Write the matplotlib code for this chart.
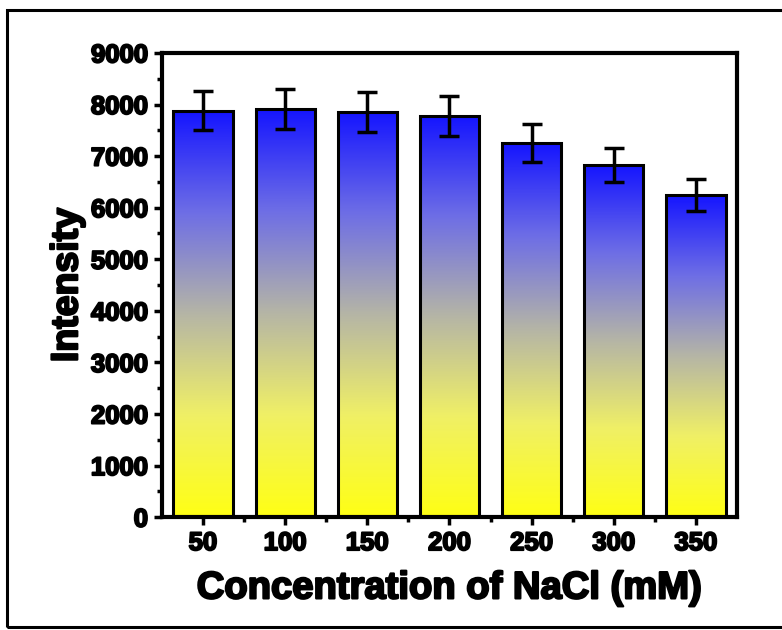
import numpy as np
import matplotlib
matplotlib.use("Agg")
import matplotlib.pyplot as plt
from matplotlib.colors import LinearSegmentedColormap
from matplotlib.ticker import MultipleLocator
from matplotlib.patches import Rectangle
import matplotlib.patheffects as pe

# data
concentrations = ["50", "100", "150", "200", "250", "300", "350"]
intensity = [7880, 7910, 7860, 7780, 7260, 6830, 6250]
errors = [380, 385, 385, 385, 370, 330, 310]

plt.rcParams["font.family"] = "Liberation Sans"
plt.rcParams["font.weight"] = "bold"

# yellow (bottom) -> grey -> blue (top)
grad = LinearSegmentedColormap.from_list(
    "yb",
    [(0.0, (1.0, 1.0, 0.08)),
     (0.25, (0.94, 0.94, 0.40)),
     (0.5, (0.71, 0.71, 0.65)),
     (0.75, (0.43, 0.43, 0.90)),
     (1.0, (0.08, 0.08, 1.0))])

fig = plt.figure(figsize=(7.82, 6.30), dpi=100)
ax = fig.add_axes([0.207, 0.179, 0.7355, 0.737])

x = np.arange(len(concentrations))
width = 0.72
bars = ax.bar(x, intensity, width, facecolor="none", edgecolor="black",
              linewidth=2.2, zorder=3)

# gradient fill per bar
g = np.linspace(0, 1, 256).reshape(-1, 1)
for b in bars:
    x0, y0 = b.get_x(), b.get_y()
    im = ax.imshow(g, cmap=grad, origin="lower", aspect="auto",
                   extent=[x0, x0 + b.get_width(), y0, y0 + b.get_height()],
                   zorder=2)
    im.set_clip_path(b)

ax.errorbar(x, intensity, yerr=errors, fmt="none", ecolor="black",
            elinewidth=2.5, capsize=7, capthick=2.5, zorder=4)

ax.set_xlim(-0.5, len(x) - 0.5)
ax.set_ylim(0, 9000)
ax.set_xticks(x)
ax.set_xticklabels(concentrations)
ax.set_xticks(x[:-1] + 0.5, minor=True)
ax.yaxis.set_major_locator(MultipleLocator(1000))
ax.yaxis.set_minor_locator(MultipleLocator(500))

for s in ax.spines.values():
    s.set_linewidth(3)
ax.tick_params(which="major", direction="out", length=6, width=2.5,
               labelsize=18.5, pad=4)
ax.tick_params(which="minor", direction="out", length=3.5, width=2.5)

stroke = [pe.withStroke(linewidth=1.4, foreground="black")]
for lab in ax.get_xticklabels() + ax.get_yticklabels():
    lab.set_fontweight("bold")
    lab.set_path_effects(stroke)

ax.set_xlabel("Concentration of NaCl (mM)", fontsize=27.5, fontweight="bold",
              labelpad=11, path_effects=[pe.withStroke(linewidth=1.6,
                                                       foreground="black")])
ax.set_ylabel("Intensity", fontsize=27, fontweight="bold", labelpad=4,
              path_effects=[pe.withStroke(linewidth=1.6, foreground="black")])

# outer frame around the figure (cut off on the right)
fig.patches.append(Rectangle((7 / 782, 3 / 630), 1.0, 617 / 630,
                             transform=fig.transFigure, fill=False,
                             edgecolor="black", linewidth=2.2))

fig.savefig("out.png", dpi=100)
